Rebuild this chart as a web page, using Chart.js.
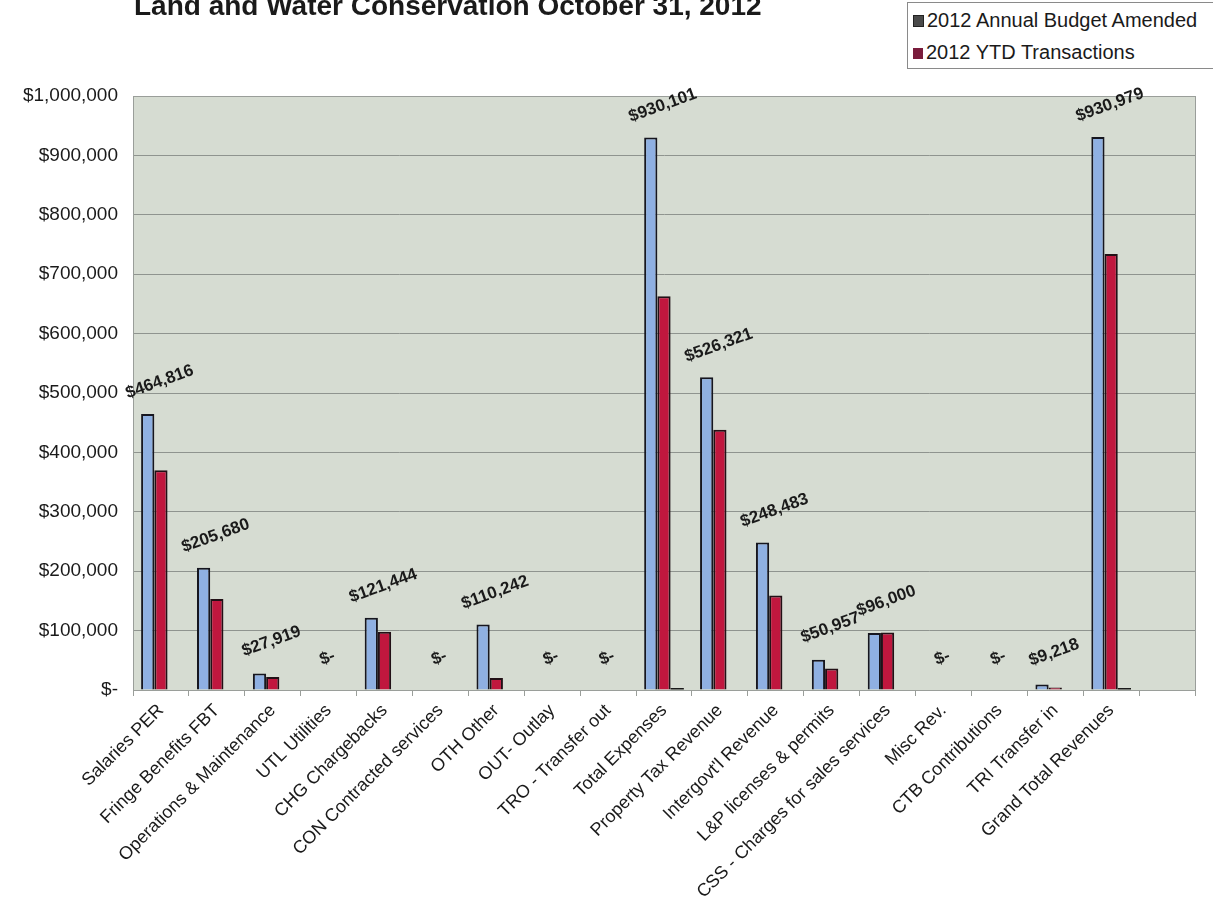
<!DOCTYPE html>
<html>
<head>
<meta charset="utf-8">
<script src="https://cdn.jsdelivr.net/npm/chart.js@4.4.1/dist/chart.umd.min.js"></script>
<style>
  html, body { margin: 0; padding: 0; background: #fff; }
  #wrap { position: relative; width: 1213px; height: 903px; overflow: hidden; font-family: Arial, "Liberation Sans", sans-serif; }
  #titulo { position: absolute; left: 134px; top: -10px; font: bold 28px Arial, "Liberation Sans", sans-serif; color: #1a1a1a; white-space: nowrap; }
  #legenda { position: absolute; left: 907px; top: 2px; width: 320px; height: 65px; border: 1px solid #8a8a8a; background: #fff; }
  .item { position: absolute; left: 5px; font-size: 20px; color: #1a1a1a; white-space: nowrap; }
  .item span { display: inline-block; width: 10px; height: 11px; margin-right: 3px; vertical-align: 0px; }
  canvas { position: absolute; left: 0; top: 0; }
</style>
</head>
<body>
<div id="wrap">
  <canvas id="grafico" width="1213" height="903"></canvas>
  <div id="titulo">Land and Water Conservation October 31, 2012</div>
  <div id="legenda">
    <div class="item" style="top: 6px;"><span style="background:#4a4a4a; border:1px solid #222; width:9px; height:10px;"></span>2012 Annual Budget Amended</div>
    <div class="item" style="top: 38px;"><span style="background:#7a1c3c;"></span>2012 YTD Transactions</div>
  </div>
</div>
<script>
// categorias (a ultima fica vazia, como no original)
const categorias = [
  'Salaries PER', 'Fringe Benefits FBT', 'Operations & Maintenance', 'UTL Utilities',
  'CHG Chargebacks', 'CON Contracted services', 'OTH Other', 'OUT- Outlay',
  'TRO - Transfer out', 'Total Expenses', 'Property Tax Revenue', "Intergovt'l Revenue",
  'L&P licenses & permits', 'CSS - Charges for sales services', 'Misc Rev.',
  'CTB Contributions', 'TRI Transfer in', 'Grand Total Revenues', ''
];
const orcamento = [464816, 205680, 27919, 0, 121444, 0, 110242, 0, 0, 930101,
  526321, 248483, 50957, 96000, 0, 0, 9218, 930979, null];
const realizado = [370000, 153000, 22000, 0, 98000, 0, 20000, 0, 0, 663000,
  438000, 159000, 36000, 97000, 0, 0, 4000, 734000, null];
// terceira serie (sem legenda), aparece so como um traco no zero
const terceira = [null, null, null, null, null, null, null, null, null, 0,
  null, null, null, null, null, null, null, 0, null];
const yTicks = [0, 100000, 200000, 300000, 400000, 500000, 600000, 700000, 800000, 900000, 1000000];

function formatar(v) {
  if (v === 0) return '$-';
  return '$' + v.toLocaleString('en-US');
}

// fundo da area do grafico + moldura
const fundoPlugin = {
  id: 'fundo',
  beforeDraw(chart) {
    const { ctx, chartArea: a } = chart;
    ctx.save();
    ctx.fillStyle = '#d6dcd2';
    ctx.fillRect(a.left, a.top, a.right - a.left, a.bottom - a.top);
    ctx.restore();
  },
  afterDatasetsDraw(chart) {
    const { ctx, chartArea: a } = chart;
    ctx.save();
    ctx.strokeStyle = '#9a9e9a';
    ctx.lineWidth = 1;
    ctx.strokeRect(a.left + 0.5, a.top + 0.5, a.right - a.left, a.bottom - a.top);
    ctx.restore();
  }
};

// rotulos da serie do orcamento, inclinados
const rotulosPlugin = {
  id: 'rotulos',
  afterDatasetsDraw(chart) {
    const { ctx } = chart;
    const meta = chart.getDatasetMeta(0);
    ctx.save();
    ctx.font = 'bold 17px Arial, "Liberation Sans", sans-serif';
    ctx.fillStyle = '#1a1a1a';
    ctx.textAlign = 'center';
    ctx.textBaseline = 'middle';
    meta.data.forEach((bar, i) => {
      const v = orcamento[i];
      if (v === null || v === undefined) return;
      ctx.save();
      ctx.translate(bar.x + 12, bar.y - 32);
      ctx.rotate(-20 * Math.PI / 180);
      ctx.fillText(formatar(v), 0, 0);
      ctx.restore();
    });
    ctx.restore();
  }
};

const ctx = document.getElementById('grafico').getContext('2d');
new Chart(ctx, {
  type: 'bar',
  data: {
    labels: categorias,
    datasets: [
      {
        label: '2012 Annual Budget Amended',
        data: orcamento,
        backgroundColor: '#8fb0e2',
        borderColor: '#16161f',
        borderWidth: 2,
        borderSkipped: 'bottom',
        categoryPercentage: 0.71,
        barPercentage: 1.0
      },
      {
        label: '2012 YTD Transactions',
        data: realizado,
        backgroundColor: '#c0173e',
        borderColor: '#221016',
        borderWidth: 2,
        borderSkipped: 'bottom',
        categoryPercentage: 0.71,
        barPercentage: 1.0
      },
      {
        label: '',
        data: terceira,
        backgroundColor: '#1a1a1a',
        borderWidth: 0,
        minBarLength: 2,
        categoryPercentage: 0.71,
        barPercentage: 1.0
      }
    ]
  },
  options: {
    responsive: false,
    animation: false,
    layout: { padding: { top: 96, right: 18, left: 0, bottom: 0 } },
    plugins: {
      legend: { display: false },
      title: { display: false },
      tooltip: { enabled: false }
    },
    scales: {
      x: {
        grid: { drawOnChartArea: false, drawTicks: true, tickLength: 6, color: '#9a9e9a', offset: true },
        border: { color: '#9a9e9a' },
        ticks: {
          color: '#1a1a1a',
          font: { family: 'Arial, "Liberation Sans", sans-serif', size: 18 },
          minRotation: 45, maxRotation: 45, autoSkip: false, padding: 4
        },
        afterFit(scale) { scale.height = 213; }
      },
      y: {
        min: 0, max: 1000000,
        afterBuildTicks(scale) { scale.ticks = yTicks.map(v => ({ value: v })); },
        grid: { color: '#8f948f', lineWidth: 1, drawTicks: false },
        border: { color: '#9a9e9a' },
        ticks: {
          color: '#1a1a1a',
          padding: 15,
          font: { family: 'Arial, "Liberation Sans", sans-serif', size: 19 },
          callback: (v) => formatar(v)
        },
        afterFit(scale) { scale.width = 133; }
      }
    }
  },
  plugins: [fundoPlugin, rotulosPlugin]
});
</script>
</body>
</html>
